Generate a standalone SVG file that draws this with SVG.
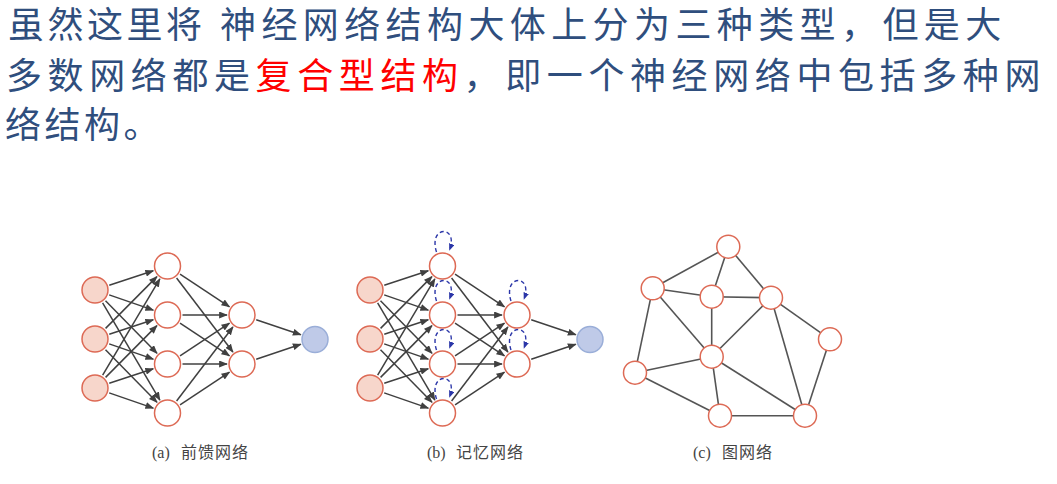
<svg xmlns="http://www.w3.org/2000/svg" width="1057" height="484" viewBox="0 0 1057 484">
<style>
.t{font-family:"Noto Sans CJK SC","Noto Sans",sans-serif;font-size:36px;fill:#2F4E7D}
.red{fill:#FF0000}
.cap{font-family:"Liberation Serif","Noto Sans CJK SC",serif;font-size:16px;fill:#444}
.capc{font-family:"Noto Sans CJK SC",sans-serif;font-size:16px;fill:#444;letter-spacing:1px}
.n{fill:#fff;stroke:#DD6A55;stroke-width:1.5}
.in{fill:#F7D6CB;stroke:#DD6A55;stroke-width:1.5}
.out{fill:#BFCAE8;stroke:#9AAED8;stroke-width:1.5}
.arr{stroke:#404040;stroke-width:1.5;fill:none;marker-end:url(#ah)}
.loop{stroke:#2B36A8;stroke-width:1.4;fill:none;stroke-dasharray:4 3;marker-end:url(#bh)}
.e{stroke:#555;stroke-width:1.6;fill:none}
</style>
<defs>
<marker id="ah" viewBox="0 0 10 8" refX="9" refY="4" markerWidth="9" markerHeight="7" markerUnits="userSpaceOnUse" orient="auto"><path d="M0,0 L10,4 L0,8 z" fill="#404040"/></marker>
<marker id="bh" viewBox="0 0 10 8" refX="9" refY="4" markerWidth="7" markerHeight="5.6" markerUnits="userSpaceOnUse" orient="auto"><path d="M0,0 L10,4 L0,8 z" fill="#2B36A8"/></marker>
</defs>
<rect width="1057" height="484" fill="#fff"/>

<g id="title">
<text class="t" y="38" x="8 47.5 87 126.5 166 220 261.4 302.8 344.2 385.6 427 468.4 509.8 551.2 592.6 634 675.4 716.8 758.2 799.6 841 882.4 923.8 965.2">虽然这里将神经网络结构大体上分为三种类型，但是大</text>
<text class="t" y="89">
<tspan x="6 47.6 89.2 130.8 172.4 214">多数网络都是</tspan><tspan class="red" x="255.6 297.2 338.8 380.4 422">复合型结构</tspan><tspan x="463.6 505.2 546.8 588.4 630 671.6 713.2 754.8 796.4 838 879.6 921.2 962.8 1004.4">，即一个神经网络中包括多种网</tspan>
</text>
<text class="t" y="137.5" x="5 44.5 84 123.5">络结构。</text>
</g>

<g id="connectors">
<g id="conn-a">
<line class="arr" x1="109.24" y1="285.29" x2="153.26" y2="270.71"/>
<line class="arr" x1="109.18" y1="294.89" x2="153.32" y2="310.11"/>
<line class="arr" x1="105.5" y1="300.71" x2="157" y2="353.29"/>
<line class="arr" x1="102.62" y1="302.92" x2="159.88" y2="400.08"/>
<line class="arr" x1="105.57" y1="328.36" x2="156.93" y2="276.64"/>
<line class="arr" x1="109.24" y1="334.29" x2="153.26" y2="319.71"/>
<line class="arr" x1="109.18" y1="343.89" x2="153.32" y2="359.11"/>
<line class="arr" x1="105.5" y1="349.71" x2="157" y2="402.29"/>
<line class="arr" x1="102.66" y1="375.1" x2="159.84" y2="278.9"/>
<line class="arr" x1="105.57" y1="377.36" x2="156.93" y2="325.64"/>
<line class="arr" x1="109.24" y1="383.29" x2="153.26" y2="368.71"/>
<line class="arr" x1="109.18" y1="392.89" x2="153.32" y2="408.11"/>
<line class="arr" x1="180.03" y1="274.24" x2="229.47" y2="306.76"/>
<line class="arr" x1="176.58" y1="277.94" x2="232.92" y2="352.06"/>
<line class="arr" x1="182.5" y1="315" x2="227" y2="315"/>
<line class="arr" x1="180.03" y1="323.24" x2="229.47" y2="355.76"/>
<line class="arr" x1="180.03" y1="355.76" x2="229.47" y2="323.24"/>
<line class="arr" x1="182.5" y1="364" x2="227" y2="364"/>
<line class="arr" x1="176.58" y1="401.06" x2="232.92" y2="326.94"/>
<line class="arr" x1="180.03" y1="404.76" x2="229.47" y2="372.24"/>
<line class="arr" x1="256.22" y1="319.77" x2="300.78" y2="334.73"/>
<line class="arr" x1="256.22" y1="359.23" x2="300.78" y2="344.27"/>
</g>
<g id="conn-b" transform="translate(275,0)">
<line class="arr" x1="109.24" y1="285.29" x2="153.26" y2="270.71"/>
<line class="arr" x1="109.18" y1="294.89" x2="153.32" y2="310.11"/>
<line class="arr" x1="105.5" y1="300.71" x2="157" y2="353.29"/>
<line class="arr" x1="102.62" y1="302.92" x2="159.88" y2="400.08"/>
<line class="arr" x1="105.57" y1="328.36" x2="156.93" y2="276.64"/>
<line class="arr" x1="109.24" y1="334.29" x2="153.26" y2="319.71"/>
<line class="arr" x1="109.18" y1="343.89" x2="153.32" y2="359.11"/>
<line class="arr" x1="105.5" y1="349.71" x2="157" y2="402.29"/>
<line class="arr" x1="102.66" y1="375.1" x2="159.84" y2="278.9"/>
<line class="arr" x1="105.57" y1="377.36" x2="156.93" y2="325.64"/>
<line class="arr" x1="109.24" y1="383.29" x2="153.26" y2="368.71"/>
<line class="arr" x1="109.18" y1="392.89" x2="153.32" y2="408.11"/>
<line class="arr" x1="180.03" y1="274.24" x2="229.47" y2="306.76"/>
<line class="arr" x1="176.58" y1="277.94" x2="232.92" y2="352.06"/>
<line class="arr" x1="182.5" y1="315" x2="227" y2="315"/>
<line class="arr" x1="180.03" y1="323.24" x2="229.47" y2="355.76"/>
<line class="arr" x1="180.03" y1="355.76" x2="229.47" y2="323.24"/>
<line class="arr" x1="182.5" y1="364" x2="227" y2="364"/>
<line class="arr" x1="176.58" y1="401.06" x2="232.92" y2="326.94"/>
<line class="arr" x1="180.03" y1="404.76" x2="229.47" y2="372.24"/>
<line class="arr" x1="256.22" y1="319.77" x2="300.78" y2="334.73"/>
<line class="arr" x1="256.22" y1="359.23" x2="300.78" y2="344.27"/>
<path class="loop" d="M161.5,252 C153,225 184,225 174.5,250"/>
<path class="loop" d="M161.5,301 C153,274 184,274 174.5,299"/>
<path class="loop" d="M161.5,350 C153,323 184,323 174.5,348"/>
<path class="loop" d="M161.5,399 C153,372 184,372 174.5,397"/>
<path class="loop" d="M236,301 C227.5,274 258.5,274 249,299"/>
<path class="loop" d="M236,350 C227.5,323 258.5,323 249,348"/>
</g>
<g id="conn-c">
<line class="e" x1="728.3" y1="246.7" x2="652.7" y2="288.3"/>
<line class="e" x1="728.3" y1="246.7" x2="711.7" y2="296.7"/>
<line class="e" x1="728.3" y1="246.7" x2="771" y2="297.7"/>
<line class="e" x1="652.7" y1="288.3" x2="711.7" y2="296.7"/>
<line class="e" x1="711.7" y1="296.7" x2="771" y2="297.7"/>
<line class="e" x1="652.7" y1="288.3" x2="711.7" y2="356.7"/>
<line class="e" x1="652.7" y1="288.3" x2="635" y2="372.7"/>
<line class="e" x1="711.7" y1="296.7" x2="711.7" y2="356.7"/>
<line class="e" x1="771" y1="297.7" x2="711.7" y2="356.7"/>
<line class="e" x1="771" y1="297.7" x2="830" y2="339.3"/>
<line class="e" x1="771" y1="297.7" x2="805" y2="415.7"/>
<line class="e" x1="830" y1="339.3" x2="805" y2="415.7"/>
<line class="e" x1="711.7" y1="356.7" x2="635" y2="372.7"/>
<line class="e" x1="711.7" y1="356.7" x2="720" y2="415.7"/>
<line class="e" x1="711.7" y1="356.7" x2="805" y2="415.7"/>
<line class="e" x1="635" y1="372.7" x2="720" y2="415.7"/>
<line class="e" x1="720" y1="415.7" x2="805" y2="415.7"/>
</g>
</g>

<g id="a-in1"><circle class="in" cx="95" cy="290" r="13"/></g>
<g id="a-in2"><circle class="in" cx="95" cy="339" r="13"/></g>
<g id="a-in3"><circle class="in" cx="95" cy="388" r="13"/></g>
<g id="a-h1"><circle class="n" cx="167.5" cy="266" r="13"/></g>
<g id="a-h2"><circle class="n" cx="167.5" cy="315" r="13"/></g>
<g id="a-h3"><circle class="n" cx="167.5" cy="364" r="13"/></g>
<g id="a-h4"><circle class="n" cx="167.5" cy="413" r="13"/></g>
<g id="a-g1"><circle class="n" cx="242" cy="315" r="13"/></g>
<g id="a-g2"><circle class="n" cx="242" cy="364" r="13"/></g>
<g id="a-out"><circle class="out" cx="315" cy="339.5" r="13"/></g>

<g id="b-in1"><circle class="in" cx="370" cy="290" r="13"/></g>
<g id="b-in2"><circle class="in" cx="370" cy="339" r="13"/></g>
<g id="b-in3"><circle class="in" cx="370" cy="388" r="13"/></g>
<g id="b-h1"><circle class="n" cx="442.5" cy="266" r="13"/></g>
<g id="b-h2"><circle class="n" cx="442.5" cy="315" r="13"/></g>
<g id="b-h3"><circle class="n" cx="442.5" cy="364" r="13"/></g>
<g id="b-h4"><circle class="n" cx="442.5" cy="413" r="13"/></g>
<g id="b-g1"><circle class="n" cx="517" cy="315" r="13"/></g>
<g id="b-g2"><circle class="n" cx="517" cy="364" r="13"/></g>
<g id="b-out"><circle class="out" cx="590" cy="339.5" r="13"/></g>

<g id="c-A"><circle class="n" cx="728.3" cy="246.7" r="11.5"/></g>
<g id="c-B"><circle class="n" cx="652.7" cy="288.3" r="11.5"/></g>
<g id="c-C"><circle class="n" cx="711.7" cy="296.7" r="11.5"/></g>
<g id="c-D"><circle class="n" cx="771" cy="297.7" r="11.5"/></g>
<g id="c-E"><circle class="n" cx="830" cy="339.3" r="11.5"/></g>
<g id="c-F"><circle class="n" cx="711.7" cy="356.7" r="11.5"/></g>
<g id="c-G"><circle class="n" cx="635" cy="372.7" r="11.5"/></g>
<g id="c-H"><circle class="n" cx="720" cy="415.7" r="11.5"/></g>
<g id="c-I"><circle class="n" cx="805" cy="415.7" r="11.5"/></g>

<g id="captions">
<text class="cap" x="152" y="458">(a)</text><text class="capc" x="181" y="458">前馈网络</text>
<text class="cap" x="427" y="458">(b)</text><text class="capc" x="456" y="458">记忆网络</text>
<text class="cap" x="693" y="458">(c)</text><text class="capc" x="722" y="458">图网络</text>
</g>
</svg>
